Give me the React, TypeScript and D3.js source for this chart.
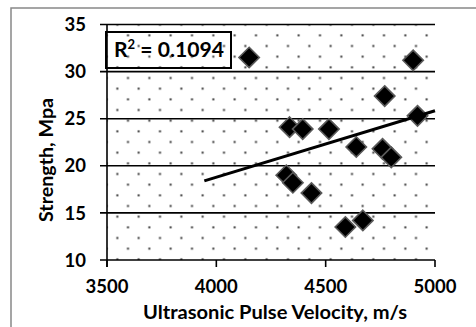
import React from "react";
import * as d3 from "d3";

// ---- data ----
const velocity = [4150, 4900, 4770, 4920, 4335, 4395, 4515, 4640, 4760, 4800, 4320, 4350, 4435, 4590, 4670];
const strength = [31.5, 31.2, 27.4, 25.3, 24.1, 23.9, 23.9, 22.0, 21.8, 20.9, 19.0, 18.2, 17.1, 13.5, 14.2];
const trendX = [3945, 5000];
const trendY = [18.4, 25.85];
const xTicks = [3500, 4000, 4500, 5000];
const yTicks = [10, 15, 20, 25, 30, 35];
const rSquared = "0.1094";
const xTitle = "Ultrasonic Pulse Velocity, m/s";
const yTitle = "Strength, Mpa";

const W = 476;
const H = 327;
const L = 107, R = 435, T = 24.5, B = 260;
const FONT = "Lato, 'Open Sans', sans-serif";

export default function App() {
  const x = d3.scaleLinear().domain([3500, 5000]).range([L, R]);
  const y = d3.scaleLinear().domain([10, 35]).range([B, T]);
  const pts = velocity.map((v, i) => ({ v, s: strength[i] }));
  const line = d3
    .line<number>()
    .x((d) => x(d))
    .y((_, i) => y(trendY[i]));
  const half = 10.2;
  const diamond = `M0,${-half}L${half},0L0,${half}L${-half},0Z`;

  return (
    <svg
      width={W}
      height={H}
      style={{ position: "absolute", left: 0, top: 0, background: "#fff" }}
      fontFamily={FONT}
    >
      <defs>
        <pattern id="dots" patternUnits="userSpaceOnUse" x={5.333} y={0} width={21.333} height={21.333}>
          <rect x={5.333 - 1} y={3.33 - 1} width={2} height={2} fill="#3a3a3a" />
          <rect x={16 - 1} y={14 - 1} width={2} height={2} fill="#3a3a3a" />
        </pattern>
        <clipPath id="plotclip">
          <rect x={L} y={T - 2} width={R - L + 2} height={B - T + 4} />
        </clipPath>
      </defs>
      <rect x={0} y={0} width={W} height={H} fill="#fff" />
      <rect x={11} y={8} width={W + 20} height={H + 20} fill="none" stroke="#888" strokeWidth={1.5} />
      <rect x={L} y={T} width={R - L} height={B - T} fill="url(#dots)" />
      {yTicks.map((t) => (
        <g key={t}>
          <line x1={L - 7} x2={R} y1={y(t)} y2={y(t)} stroke="#000" strokeWidth={1.6} />
          <text x={86} y={y(t)} dy="0.36em" textAnchor="end" fontSize={18.5} fontWeight={700} fill="#000">
            {t}
          </text>
        </g>
      ))}
      <line x1={L} x2={L} y1={T} y2={B + 7} stroke="#000" strokeWidth={1.6} />
      {xTicks.map((t) => (
        <g key={t}>
          <line x1={x(t)} x2={x(t)} y1={B} y2={B + 7} stroke="#000" strokeWidth={1.6} />
          <text x={x(t)} y={293} textAnchor="middle" fontSize={18.5} fontWeight={700} fill="#000">
            {t}
          </text>
        </g>
      ))}
      <g clipPath="url(#plotclip)">
        {pts.map((p, i) => (
          <path
            key={i}
            d={diamond}
            transform={`translate(${x(p.v)},${y(p.s)})`}
            fill="#000"
            stroke="#5a5a5a"
            strokeWidth={1.6}
          />
        ))}
        <path d={line(trendX) || ""} fill="none" stroke="#000" strokeWidth={3} />
      </g>
      <rect x={106} y={32} width={125} height={36} fill="none" stroke="#000" strokeWidth={2} />
      <text x={114} y={57.3} fontSize={21} fontWeight={700} fill="#000" textLength={110} lengthAdjust="spacingAndGlyphs">
        R<tspan fontSize={13} dy={-8}>2</tspan>
        <tspan dy={8}> = {rSquared}</tspan>
      </text>
      <text x={275} y={319} textAnchor="middle" fontSize={18.5} fontWeight={700} fill="#000" textLength={264} lengthAdjust="spacingAndGlyphs">
        {xTitle}
      </text>
      <text
        transform="translate(53,160) rotate(-90)"
        textAnchor="middle"
        fontSize={18.5}
        fontWeight={700}
        fill="#000"
        textLength={124}
        lengthAdjust="spacingAndGlyphs"
      >
        {yTitle}
      </text>
    </svg>
  );
}
